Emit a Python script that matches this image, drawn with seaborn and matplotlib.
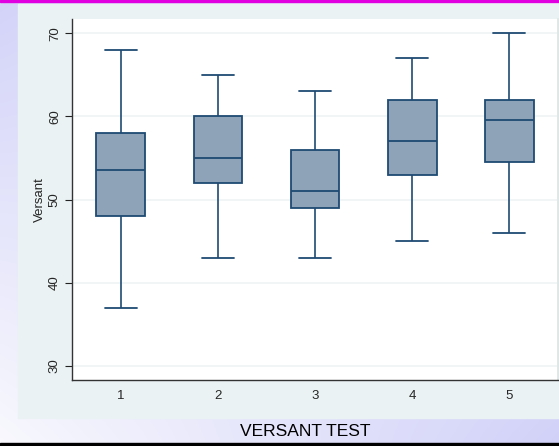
import numpy as np
import pandas as pd
import matplotlib
matplotlib.use("Agg")
import matplotlib.pyplot as plt
import seaborn as sns

# Five-number summaries (min, q1, median, q3, max)
groups = ["1", "2", "3", "4", "5"]
mins = [37, 43, 43, 45, 46]
q1s = [48, 52, 49, 53, 54.5]
medians = [53.5, 55, 51, 57, 59.5]
q3s = [58, 60, 56, 62, 62]
maxs = [68, 65, 63, 67, 70]
yticks = [30, 40, 50, 60, 70]

rows = []
for g, a, b, c, d, e in zip(groups, mins, q1s, medians, q3s, maxs):
    for v in (a, b, c, d, e):
        rows.append({"group": g, "Versant": v})
df = pd.DataFrame(rows)

sns.set_theme(style="white")
plt.rcParams['font.family'] = ['Liberation Sans', 'DejaVu Sans']

W, H = 559, 446
fig = plt.figure(figsize=(W / 100, H / 100), dpi=100)

# background gradient (top-left and bottom-right lavender, bottom-left pale)
bg = fig.add_axes([0, 0, 1, 1], zorder=-10)
xx = np.linspace(0, 1, 256)
yy = np.linspace(0, 1, 256)
X, Y = np.meshgrid(xx, yy)  # Y = 0 at top row
t = np.clip(0.95 * (1 - X) * (1 - Y) + 1.0 * X * Y + 0.2 * X * (1 - Y), 0, 1)
c0 = np.array([0.975, 0.975, 0.995])
c1 = np.array([0.82, 0.82, 0.975])
img = c0[None, None, :] * (1 - t[..., None]) + c1[None, None, :] * t[..., None]
bg.imshow(img, extent=[0, 1, 0, 1], origin="upper", aspect="auto")
bg.set_xlim(0, 1); bg.set_ylim(0, 1)
bg.axis("off")

def fx(px):
    return px / W

def fy(py):
    return 1 - py / H

# magenta top line and black bottom band
fig.patches.append(plt.Rectangle((0, fy(2)), 1, 2 / H, transform=fig.transFigure,
                                 color="#e000e0", zorder=-5))
fig.patches.append(plt.Rectangle((0, 0), 1, 3.5 / H, transform=fig.transFigure,
                                 color="black", zorder=-5))
# graph region
fig.patches.append(plt.Rectangle((fx(18), fy(418)), fx(559) - fx(18), fy(4) - fy(418),
                                 transform=fig.transFigure, color="#eaf2f3", zorder=-5))

ax = fig.add_axes([fx(72), fy(380), fx(558) - fx(72), fy(19) - fy(380)])
ax.set_facecolor("white")

navy = "#1f4a73"
sns.boxplot(data=df, x="group", y="Versant", order=groups, ax=ax, whis=(0, 100),
            width=0.5, color="#8ea3b8", saturation=1, linewidth=1.3,
            boxprops=dict(facecolor="#8ea3b8", edgecolor=navy),
            medianprops=dict(color=navy, linewidth=1.3),
            whiskerprops=dict(color=navy, linewidth=1.2),
            capprops=dict(color=navy, linewidth=1.3),
            capwidths=0.33, showfliers=False)

ax.set_xlim(-0.5, 4.5)
ax.set_ylim(28.3, 71.7)
ax.set_yticks(yticks)
ax.set_yticklabels([str(v) for v in yticks], rotation=90, va="center", fontsize=9.5)
ax.tick_params(axis="y", length=5, width=0.8, color="#222222", left=True, pad=3)
ax.tick_params(axis="x", length=0, labelsize=9.5, pad=7)
ax.yaxis.grid(True, color="#f0f4f4", linewidth=1.2)
ax.set_axisbelow(True)
ax.set_xlabel("")
ax.set_ylabel("Versant", fontsize=9.5, labelpad=2)

ax.spines["top"].set_visible(False)
ax.spines["right"].set_color("#dde5e5")
ax.spines["left"].set_color("#333333")
ax.spines["bottom"].set_color("#333333")
ax.spines["left"].set_linewidth(1.0)
ax.spines["bottom"].set_linewidth(1.0)

fig.text(fx(305), fy(432), "VERSANT TEST", ha="center", va="center", fontsize=12.5, color="black")

fig.savefig("out.png", dpi=100)
